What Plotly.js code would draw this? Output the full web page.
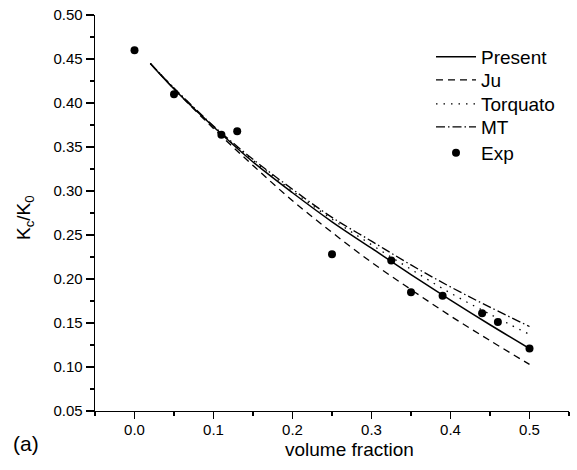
<!DOCTYPE html>
<html>
<head>
<meta charset="utf-8">
<script src="https://cdn.plot.ly/plotly-3.0.1.min.js"></script>
<style>html,body{margin:0;padding:0;background:#fff;}#chart{width:577px;height:470px;}</style>
</head>
<body>
<div id="chart"></div>
<script>
// Model curves (volume fraction -> Kc/K0)
const curveX = [0.02, 0.05, 0.10, 0.15, 0.20, 0.25, 0.30, 0.35, 0.40, 0.45, 0.50];
const presentY = [0.445, 0.416, 0.373, 0.333, 0.298, 0.265, 0.235, 0.205, 0.176, 0.148, 0.121];
const juY = [0.445, 0.416, 0.371, 0.329, 0.289, 0.253, 0.219, 0.188, 0.158, 0.130, 0.103];
const torquatoY = [0.445, 0.417, 0.373, 0.335, 0.300, 0.268, 0.239, 0.211, 0.184, 0.160, 0.137];
const mtY = [0.445, 0.417, 0.374, 0.336, 0.302, 0.270, 0.243, 0.216, 0.191, 0.168, 0.146];
// Experimental data
const expX = [0.0, 0.05, 0.11, 0.13, 0.25, 0.325, 0.35, 0.39, 0.44, 0.46, 0.50];
const expY = [0.460, 0.410, 0.364, 0.368, 0.228, 0.221, 0.185, 0.181, 0.161, 0.151, 0.121];
// Tick labels
const xTicks = [0.0, 0.1, 0.2, 0.3, 0.4, 0.5];
const xTickText = ["0.0", "0.1", "0.2", "0.3", "0.4", "0.5"];
const yTicks = [0.05, 0.10, 0.15, 0.20, 0.25, 0.30, 0.35, 0.40, 0.45, 0.50];
const yTickText = ["0.05", "0.10", "0.15", "0.20", "0.25", "0.30", "0.35", "0.40", "0.45", "0.50"];

const FONT = "Liberation Sans, Arial, sans-serif";

const traces = [
  {x: curveX, y: presentY, name: "Present", legend: "legend", mode: "lines", line: {color: "#000", width: 1.5, shape: "spline"}},
  {x: curveX, y: juY, name: "Ju", legend: "legend2", mode: "lines", line: {color: "#000", width: 1.3, dash: "7px,5px", shape: "spline"}},
  {x: curveX, y: torquatoY, name: "Torquato", legend: "legend3", mode: "lines", line: {color: "#000", width: 1.3, dash: "1.5px,6px", shape: "spline"}},
  {x: curveX, y: mtY, name: "MT", legend: "legend4", mode: "lines", line: {color: "#000", width: 1.3, dash: "9px,3px,1.5px,3px", shape: "spline"}},
  {x: expX, y: expY, name: "Exp", legend: "legend5", mode: "markers", marker: {color: "#000", size: 8, symbol: "circle"}}
];

const axisCommon = {
  showgrid: false, zeroline: false, showline: true, linecolor: "#000", linewidth: 1.3,
  ticks: "outside", ticklen: 8, tickwidth: 1.3, tickcolor: "#000",
  tickfont: {family: FONT, size: 15, color: "#000"}, mirror: false
};

function legendAt(rowCenterPx) {
  return {
    x: (431 - 95) / 474, y: (411 - rowCenterPx) / 396, xanchor: "left", yanchor: "middle",
    bgcolor: "rgba(0,0,0,0)", borderwidth: 0, itemwidth: 40,
    font: {family: FONT, size: 19, color: "#000"}
  };
}

const layout = {
  width: 577, height: 470,
  margin: {l: 95, r: 8, t: 15, b: 59},
  paper_bgcolor: "#fff", plot_bgcolor: "#fff",
  font: {family: FONT, color: "#000"},
  showlegend: true,
  legend: legendAt(57),
  legend2: legendAt(80),
  legend3: legendAt(104),
  legend4: legendAt(127),
  legend5: legendAt(153),
  xaxis: Object.assign({}, axisCommon, {
    range: [-0.05, 0.55], tickvals: xTicks, ticktext: xTickText, ticklen: 7, ticklabelstandoff: -2,
    minor: {tickvals: [-0.05, 0.05, 0.15, 0.25, 0.35, 0.45, 0.55], ticks: "outside", ticklen: 4, tickcolor: "#000", tickwidth: 1.3, showgrid: false}
  }),
  yaxis: Object.assign({}, axisCommon, {
    range: [0.05, 0.50], tickvals: yTicks, ticktext: yTickText,
    minor: {tickvals: [0.075, 0.125, 0.175, 0.225, 0.275, 0.325, 0.375, 0.425, 0.475], ticks: "outside", ticklen: 4, tickcolor: "#000", tickwidth: 1.3, showgrid: false}
  }),
  annotations: [
    {text: "volume fraction", xref: "paper", yref: "paper", x: (349 - 95) / 474, y: -(449 - 411) / 396,
     xanchor: "center", yanchor: "middle", showarrow: false, font: {family: FONT, size: 19, color: "#000"}},
    {text: "K<sub>c</sub>/K<sub>0</sub>", xref: "paper", yref: "paper", x: (25 - 95) / 474, y: (411 - 218) / 396,
     xanchor: "center", yanchor: "middle", textangle: -90, showarrow: false, font: {family: FONT, size: 19, color: "#000"}},
    {text: "(a)", xref: "paper", yref: "paper", x: (26 - 95) / 474, y: -(443 - 411) / 396,
     xanchor: "center", yanchor: "middle", showarrow: false, font: {family: FONT, size: 21, color: "#000"}}
  ]
};

Plotly.newPlot("chart", traces, layout, {staticPlot: true, displayModeBar: false});
</script>
</body>
</html>
